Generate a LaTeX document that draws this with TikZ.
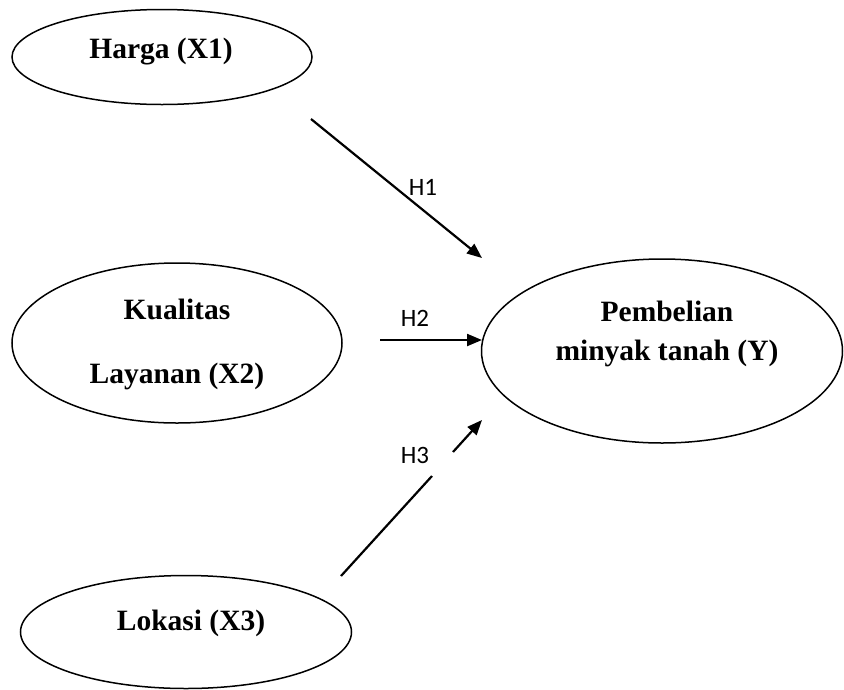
\documentclass[tikz,border=0pt]{standalone}
\usepackage{fontspec}
\setmainfont{Liberation Serif}
\newfontfamily\hfont{Carlito}
\usetikzlibrary{positioning,arrows.meta,shapes.geometric}
\tikzset{
  var/.style={draw,ellipse,line width=1.5pt,inner sep=0pt},
  vartext/.style={font=\fontsize{29.5}{34}\selectfont\bfseries,align=center,inner sep=0pt},
  hyp/.style={line width=2.2pt,-{Triangle[length=15pt,width=12pt]}},
  hlab/.style={font=\hfont\fontsize{25}{29}\selectfont,inner sep=0pt},
}

\begin{document}
\begin{tikzpicture}[x=1pt,y=-1pt]
  \useasboundingbox (0,0) rectangle (844,689);
  % constructs
  \node[var,minimum width=300,minimum height=95] (X1) at (162,57) {};
  \node[var,minimum width=330,minimum height=160] (X2) at (177,343) {};
  \node[var,minimum width=331,minimum height=113] (X3) at (186,632) {};
  \node[var,minimum width=361,minimum height=184] (Y) at (662,351) {};
  \node[vartext] (X1t) at (161,52) {Harga (X1)};
  \node[vartext] (X2t) at (177,344) {Kualitas\\[30pt]Layanan (X2)};
  \node[vartext] (X3t) at (191,623) {Lokasi (X3)};
  \node[vartext] (Yt) at (667,334) {Pembelian\\[5pt]minyak tanah (Y)};
  % hypotheses
  \coordinate (a1) at (311,119); \coordinate (b1) at (482,258);
  \coordinate (a2) at (380,340); \coordinate (b2) at (482,340);
  \coordinate (a3) at (341,576); \coordinate (m3) at (432,476);
  \coordinate (n3) at (453,452); \coordinate (b3) at (482,420);
  \draw[hyp] (a1) -- (b1);
  \draw[hyp] (a2) -- (b2);
  \draw[line width=2.2pt] (a3) -- (m3);
  \draw[hyp] (n3) -- (b3);
  \node[hlab] (h1) at (423,187) {H1};
  \node[hlab] (h2) at (415,318) {H2};
  \node[hlab] (h3) at (415,455) {H3};
\end{tikzpicture}
\end{document}
